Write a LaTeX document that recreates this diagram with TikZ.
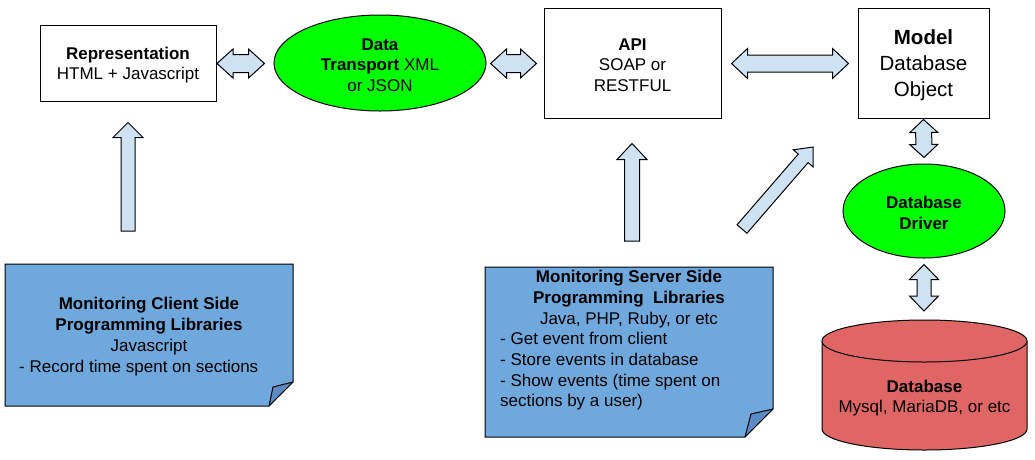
\documentclass[tikz,border=0pt]{standalone}
\usepackage{fontspec}
\setmainfont{Liberation Sans}
\usetikzlibrary{calc,shapes.geometric}
\definecolor{arrowblue}{HTML}{CFE2F3}
\definecolor{noteblue}{HTML}{6FA8DC}
\definecolor{folddark}{HTML}{5B8BC2}
\definecolor{brightgreen}{HTML}{00FF00}
\definecolor{dbred}{HTML}{E06666}
\tikzset{
  box/.style={draw=black, line width=1pt, fill=white, rectangle},
  oval/.style={draw=black, line width=1pt, ellipse, inner sep=0pt},
  blockarrow/.style={draw=black, fill=arrowblue, line width=1pt, line join=miter},
  notestyle/.style={draw=black, fill=noteblue, line width=1pt},
  txt/.style={inner sep=0pt, align=center}
}
\newcommand{\dblblock}[5]{%
 \coordinate (ba1) at ($(#1)!#5!(#2)$);
 \coordinate (ba2) at ($(#2)!#5!(#1)$);
 \draw[blockarrow] (#1) -- ($(ba1)!#4!90:(#1)$) -- ($(ba1)!#3!90:(#1)$) -- ($(ba2)!#3!-90:(#2)$) -- ($(ba2)!#4!-90:(#2)$) -- (#2) -- ($(ba2)!#4!90:(#2)$) -- ($(ba2)!#3!90:(#2)$) -- ($(ba1)!#3!-90:(#1)$) -- ($(ba1)!#4!-90:(#1)$) -- cycle;}
\newcommand{\oneblock}[5]{%
 \coordinate (ba2) at ($(#2)!#5!(#1)$);
 \draw[blockarrow] ($(#1)!#3!-90:(#2)$) -- ($(ba2)!#3!-90:(#2)$) -- ($(ba2)!#4!-90:(#2)$) -- (#2) -- ($(ba2)!#4!90:(#2)$) -- ($(ba2)!#3!90:(#2)$) -- ($(#1)!#3!90:(#2)$) -- cycle;}
\begin{document}
\begin{tikzpicture}[x=1pt,y=-1pt, font=\fontsize{17}{20.7}\selectfont]
\useasboundingbox (0,0) rectangle (1035,459);

% top row
\node[box, minimum width=176pt, minimum height=76pt] (rep) at (128,63) {};
\node[txt] (reptext) at ($(rep.center)+(0,2)$) {\textbf{Representation}\\HTML + Javascript};
\node[oval, fill=brightgreen, minimum width=212pt, minimum height=96pt] (data) at (380,63) {};
\node[txt] (datatext) at ($(data.center)+(0,2)$) {\textbf{Data}\\\textbf{Transport} XML\\or JSON};
\node[box, minimum width=177pt, minimum height=110pt] (api) at (632.5,63) {};
\node[txt] (apitext) at ($(api.center)+(0,2)$) {\textbf{API}\\SOAP or\\RESTFUL};
\node[box, minimum width=131pt, minimum height=110pt] (model) at (923.5,63) {};
\node[txt, font=\fontsize{20.5}{26}\selectfont] (modeltext) at ($(model.center)+(0,2.5)$) {\textbf{Model}\\Database\\Object};

% driver
\node[oval, fill=brightgreen, minimum width=162pt, minimum height=94pt] (driver) at (924,211) {};
\node[txt] (drivertext) at ($(driver.center)+(0,2)$) {\textbf{Database}\\\textbf{Driver}};

% database cylinder
\fill[dbred] (822,341) rectangle (1027,429);
\fill[dbred] (924.5,429) ellipse [x radius=102.5pt, y radius=21pt];
\draw[line width=1pt] (822,341) -- (822,429) arc[start angle=180, end angle=360, x radius=102.5pt, y radius=21pt] -- (1027,341);
\draw[line width=1pt, fill=dbred] (924.5,341) ellipse [x radius=102.5pt, y radius=21pt];
\coordinate (dbtop) at (924.5,320);
\node[txt] (db) at (924.5,398) {\textbf{Database}\\Mysql, MariaDB, or etc};

% client note
\draw[notestyle] (5,264) -- (293,264) -- (293,382) -- (269,406) -- (5,406) -- cycle;
\draw[line width=1pt, fill=folddark, line join=round] (293,382) -- (269,406) -- (273,387) -- cycle;
\node[txt] (clienttitle) at (149,326) {\textbf{Monitoring Client Side}\\\textbf{Programming Libraries}\\Javascript};
\node[txt, anchor=west] (clientitem) at (19,368) {- Record time spent on sections};
\coordinate (clienttop) at (128,264);

% server note
\draw[notestyle] (485,267) -- (773,267) -- (773,409) -- (745,437) -- (485,437) -- cycle;
\draw[line width=1pt, fill=folddark, line join=round] (773,409) -- (745,437) -- (751,414) -- cycle;
\node[txt] (servertitle) at (629,299) {\textbf{Monitoring Server Side}\\\textbf{Programming\ \ Libraries}\\Java, PHP, Ruby, or etc};
\node[txt, anchor=west, align=left] (serveritems) at (500,371.5) {- Get event from client\\- Store events in database\\- Show events (time spent on\\sections by a user)};
\coordinate (servertop) at (632,267);

% arrow end points
\coordinate (a1s) at ($(rep.east)+(0.5,0.5)$);
\coordinate (a1e) at ($(data.west)+(-9,0.5)$);
\coordinate (a2s) at ($(data.east)+(4,0.5)$);
\coordinate (a2e) at ($(api.west)+(-7,0.5)$);
\coordinate (a3s) at ($(api.east)+(10,0.5)$);
\coordinate (a3e) at ($(model.west)+(-9,0.5)$);
\coordinate (a4s) at ($(model.south)+(0,1)$);
\coordinate (a4e) at ($(driver.north)+(0,-6)$);
\coordinate (a5s) at ($(driver.south)+(0,6)$);
\coordinate (a5e) at ($(dbtop)+(-0.5,-9)$);
\coordinate (a6s) at ($(clienttop)+(0,-33)$);
\coordinate (a6e) at ($(rep.south)+(0,21)$);
\coordinate (a7s) at ($(servertop)+(0,-26)$);
\coordinate (a7e) at ($(api.south)+(-0.5,25)$);
\coordinate (a8s) at (742,229);
\coordinate (a8e) at (813,147);

\dblblock{a1s}{a1e}{9pt}{14.5pt}{16pt}
\dblblock{a2s}{a2e}{9pt}{14.5pt}{16pt}
\dblblock{a3s}{a3e}{8.5pt}{15pt}{16pt}
\dblblock{a4s}{a4e}{8pt}{14pt}{13pt}
\dblblock{a5s}{a5e}{7pt}{14.5pt}{15pt}
\oneblock{a6s}{a6e}{7pt}{15pt}{15pt}
\oneblock{a7s}{a7e}{7.5pt}{15pt}{16pt}
\oneblock{a8s}{a8e}{6.5pt}{13pt}{15pt}
\end{tikzpicture}
\end{document}
